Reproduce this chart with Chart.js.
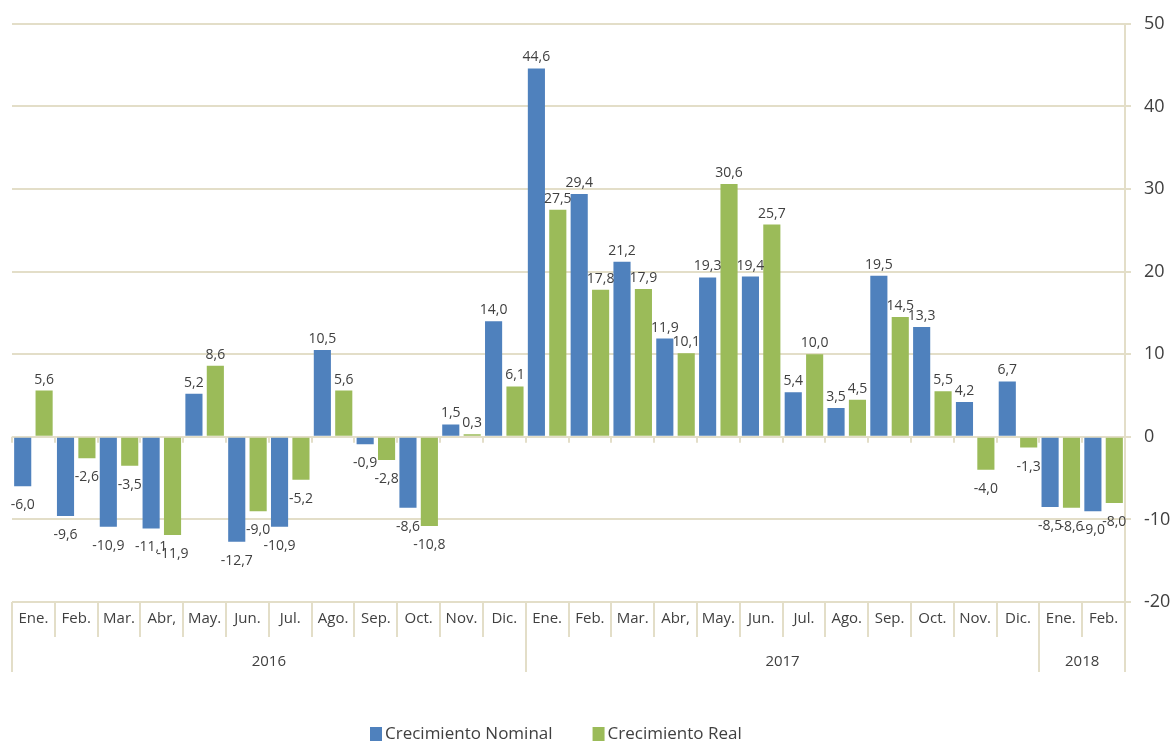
<!DOCTYPE html>
<html>
<head>
<meta charset="utf-8">
<script src="https://cdn.jsdelivr.net/npm/chart.js@4.4.0/dist/chart.umd.min.js"></script>
<style>
  body { margin: 0; background: #fff; }
</style>
</head>
<body>
<canvas id="chart" width="1174" height="742"></canvas>
<script>
// data
const months = ['Ene.', 'Feb.', 'Mar.', 'Abr,', 'May.', 'Jun.', 'Jul.', 'Ago.', 'Sep.', 'Oct.', 'Nov.', 'Dic.',
                'Ene.', 'Feb.', 'Mar.', 'Abr,', 'May.', 'Jun.', 'Jul.', 'Ago.', 'Sep.', 'Oct.', 'Nov.', 'Dic.',
                'Ene.', 'Feb.'];
const years = ['2016', '2017', '2018'];
const yearSpans = [12, 12, 2];
const nominal = [-6.0, -9.6, -10.9, -11.1, 5.2, -12.7, -10.9, 10.5, -0.9, -8.6, 1.5, 14.0,
                 44.6, 29.4, 21.2, 11.9, 19.3, 19.4, 5.4, 3.5, 19.5, 13.3, 4.2, 6.7,
                 -8.5, -9.0];
const real = [5.6, -2.6, -3.5, -11.9, 8.6, -9.0, -5.2, 5.6, -2.8, -10.8, 0.3, 6.1,
              27.5, 17.8, 17.9, 10.1, 30.6, 25.7, 10.0, 4.5, 14.5, 5.5, -4.0, -1.3,
              -8.6, -8.0];
const seriesNames = ['Crecimiento Nominal', 'Crecimiento Real'];

const FONT = '"Open Sans", "Noto Sans", sans-serif';
const gridColor = '#e3dec8';
const textColor = '#404040';
const colors = ['#4f81bd', '#9bbb59'];

// value labels on the bars (comma decimals)
const valueLabels = {
    id: 'valueLabels',
    afterDatasetsDraw(chart) {
        const ctx = chart.ctx;
        ctx.save();
        ctx.font = '14px ' + FONT;
        ctx.fillStyle = textColor;
        ctx.textAlign = 'center';
        ctx.textBaseline = 'alphabetic';
        chart.data.datasets.forEach((ds, di) => {
            chart.getDatasetMeta(di).data.forEach((bar, i) => {
                const v = ds.data[i];
                const txt = v.toFixed(1).replace('.', ',');
                const y = v >= 0 ? bar.y - 7 : bar.y + 23;
                ctx.fillText(txt, bar.x, y);
            });
        });
        ctx.restore();
    }
};

// month/year separators, year labels, small ticks on the zero line, legend
const axisExtras = {
    id: 'axisExtras',
    afterDraw(chart) {
        const ctx = chart.ctx;
        const xs = chart.scales.x;
        const ys = chart.scales.y;
        const area = chart.chartArea;
        const step = xs.getPixelForValue(1) - xs.getPixelForValue(0);
        const zeroY = ys.getPixelForValue(0);

        // which boundaries start a year
        const starts = [0];
        yearSpans.forEach(s => starts.push(starts[starts.length - 1] + s));

        ctx.save();
        ctx.strokeStyle = gridColor;
        ctx.lineWidth = 2;
        for (let i = 0; i <= months.length; i++) {
            const x = Math.round(xs.getPixelForValue(i) - step / 2);
            const bottom = starts.includes(i) ? area.bottom + 70 : area.bottom + 35;
            ctx.beginPath();
            ctx.moveTo(x, area.bottom);
            ctx.lineTo(x, bottom);
            ctx.stroke();
            // tick on the zero line
            ctx.beginPath();
            ctx.moveTo(x, zeroY);
            ctx.lineTo(x, zeroY + 6);
            ctx.stroke();
        }

        // year labels
        ctx.fillStyle = textColor;
        ctx.font = '15px ' + FONT;
        ctx.textAlign = 'center';
        ctx.textBaseline = 'middle';
        years.forEach((yr, k) => {
            const a = xs.getPixelForValue(starts[k]) - step / 2;
            const b = xs.getPixelForValue(starts[k + 1]) - step / 2;
            ctx.fillText(yr, (a + b) / 2, area.bottom + 60);
        });

        // legend
        ctx.font = '17px ' + FONT;
        ctx.textAlign = 'left';
        let lx = 370;
        const ly = 734;
        seriesNames.forEach((name, k) => {
            ctx.fillStyle = colors[k];
            ctx.fillRect(lx, ly - 7, 12, 14);
            ctx.fillStyle = textColor;
            ctx.fillText(name, lx + 15, ly);
            lx += 15 + ctx.measureText(name).width + 40;
        });
        ctx.restore();
    }
};

const ctx = document.getElementById('chart').getContext('2d');
const chart = new Chart(ctx, {
    type: 'bar',
    data: {
        labels: months,
        datasets: [
            { label: seriesNames[0], data: nominal, backgroundColor: colors[0] },
            { label: seriesNames[1], data: real, backgroundColor: colors[1] }
        ]
    },
    options: {
        responsive: false,
        animation: false,
        layout: { padding: { top: 20, left: 12, right: 0, bottom: 0 } },
        datasets: { bar: { categoryPercentage: 1.0, barPercentage: 0.8 } },
        plugins: {
            legend: { display: false },
            tooltip: { enabled: false }
        },
        scales: {
            x: {
                grid: { display: false, drawTicks: false },
                border: { display: false },
                ticks: {
                    color: textColor,
                    font: { family: FONT, size: 15 },
                    padding: 8,
                    maxRotation: 0,
                    autoSkip: false
                },
                afterFit(scale) { scale.height = 140; }
            },
            y: {
                position: 'right',
                min: -20,
                max: 50,
                grid: { color: gridColor, lineWidth: 2, tickLength: 6 },
                border: { display: true, color: gridColor, width: 2 },
                ticks: {
                    stepSize: 10,
                    color: textColor,
                    font: { family: FONT, size: 18 },
                    padding: 13
                },
                afterFit(scale) { scale.width = 49; }
            }
        }
    },
    plugins: [valueLabels, axisExtras]
});
</script>
</body>
</html>
